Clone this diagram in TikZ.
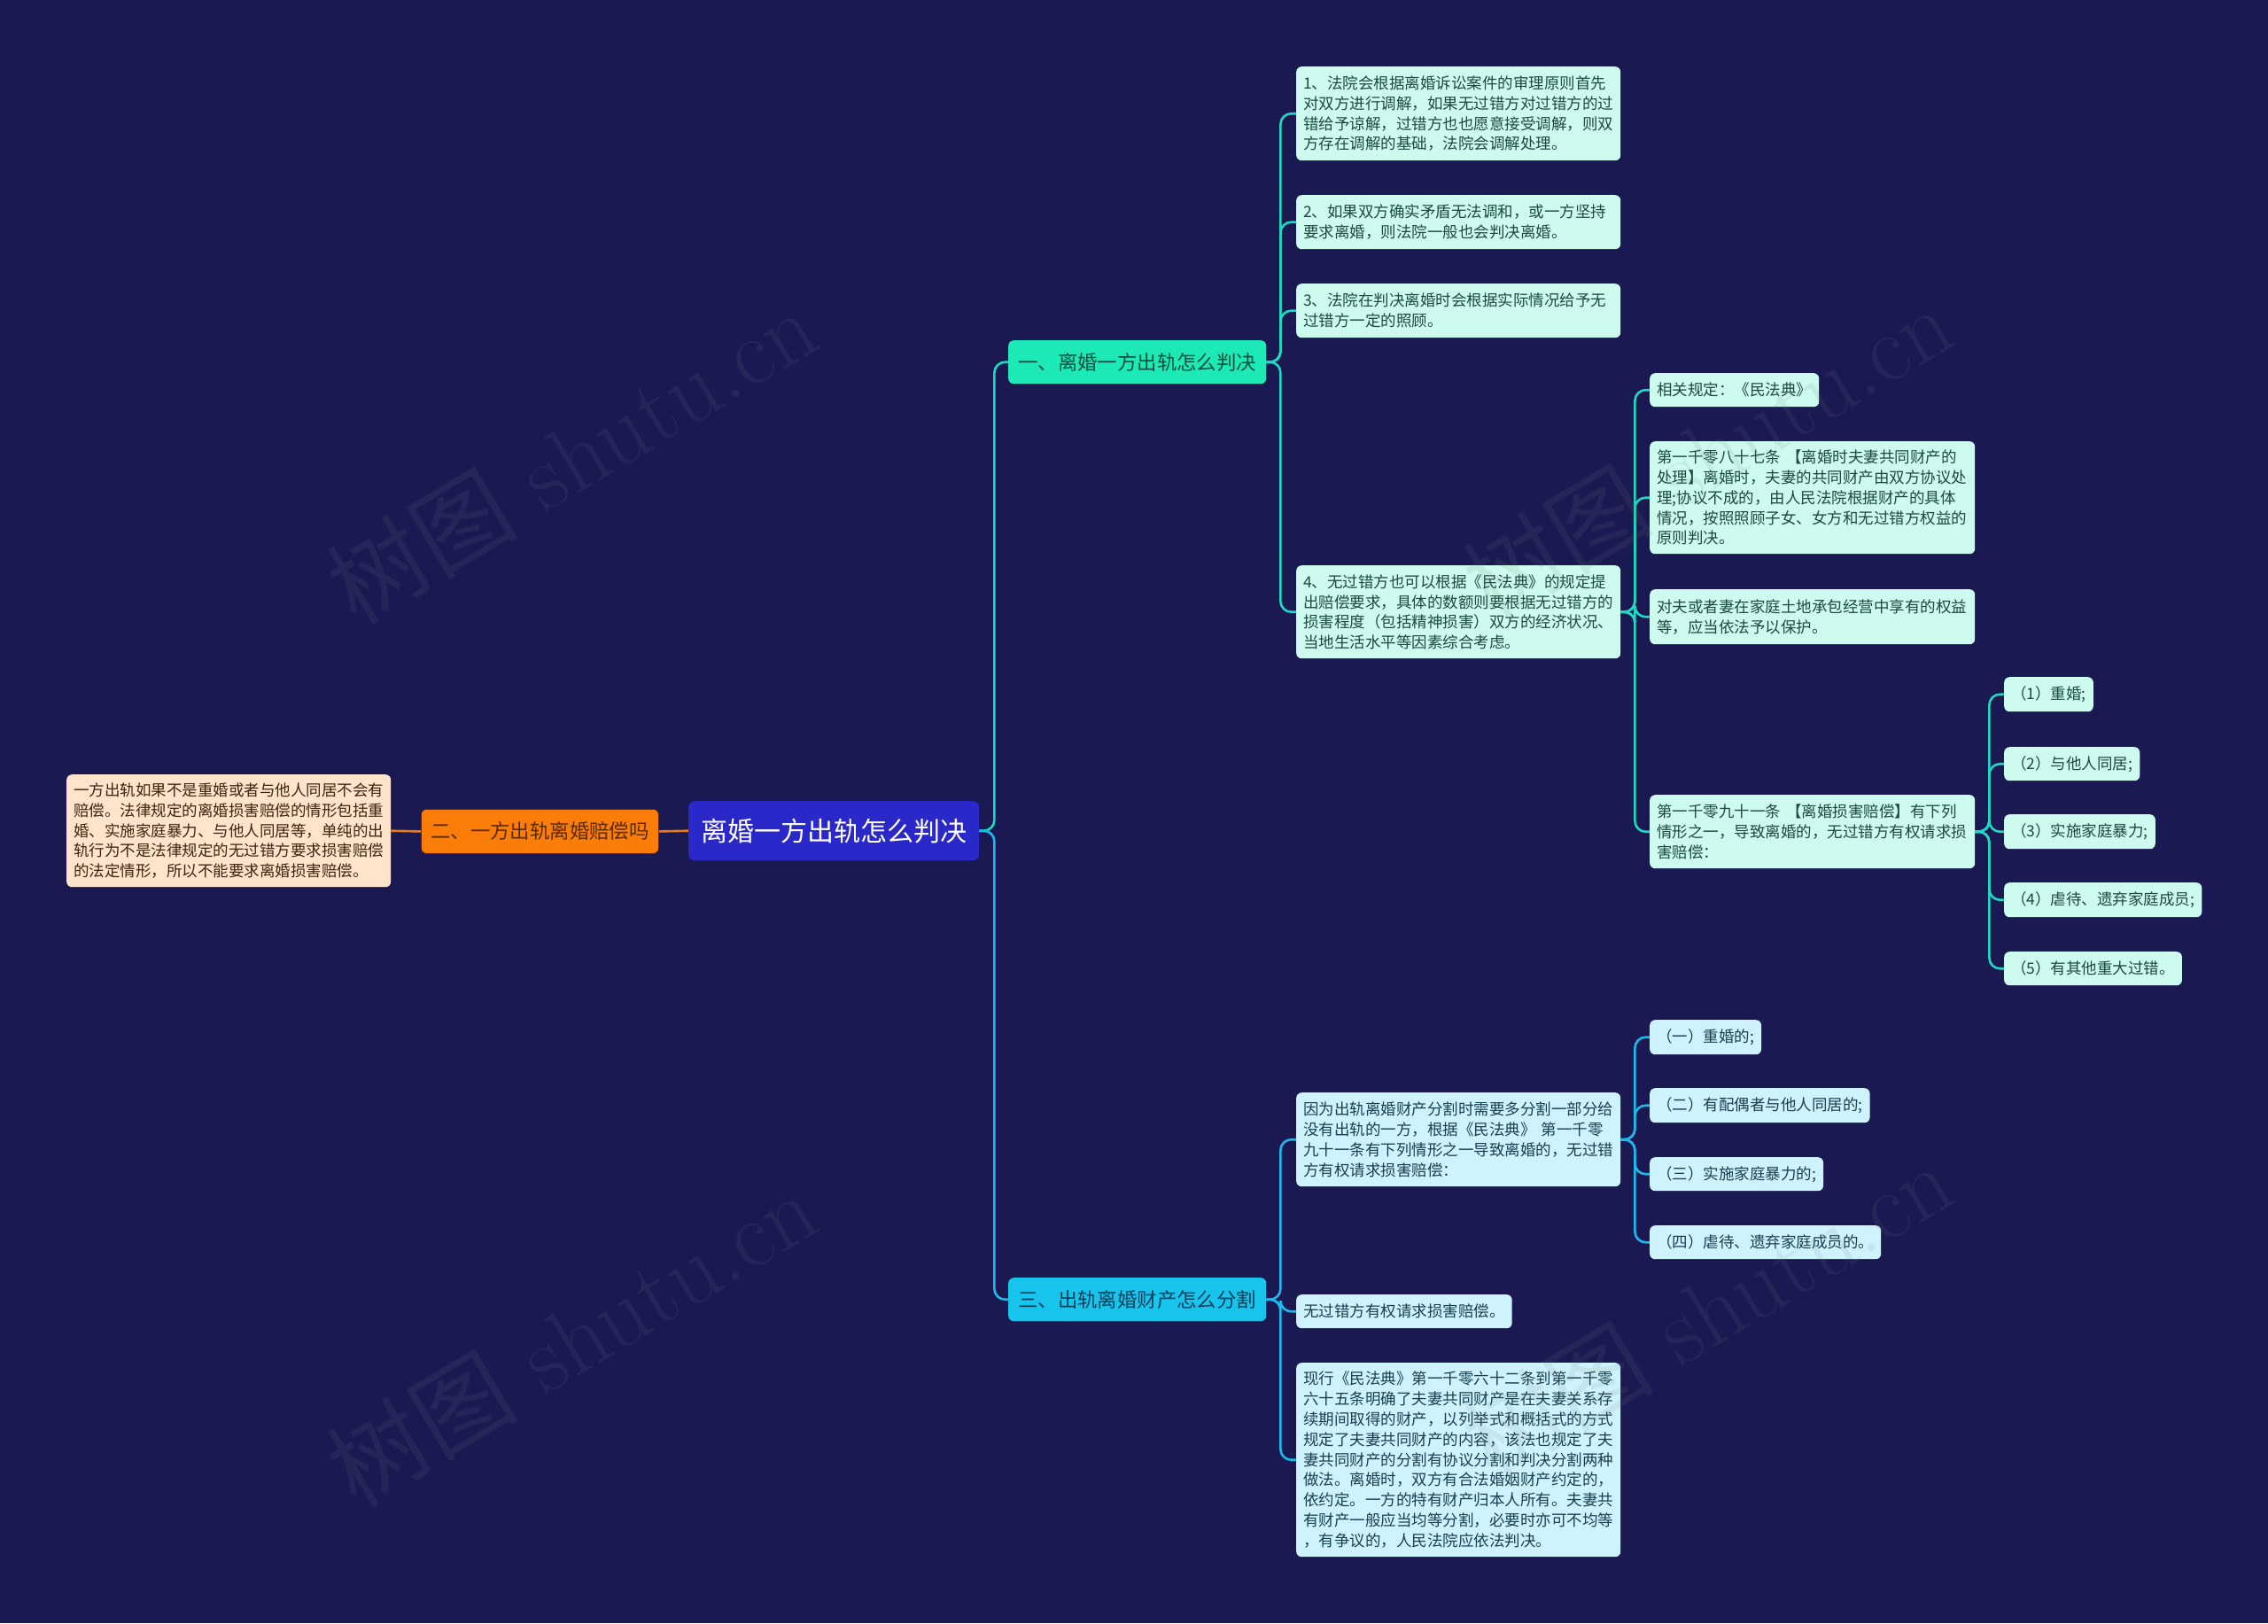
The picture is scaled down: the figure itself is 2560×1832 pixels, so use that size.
\documentclass[tikz,border=0pt]{standalone}
\usepackage{fontspec}
\newfontfamily\cjk{Noto Sans CJK SC}
\definecolor{bg}{HTML}{1A1952}
\definecolor{rootfill}{HTML}{2A28C8}
\definecolor{orangefill}{HTML}{FA7D0A}
\definecolor{orangetext}{HTML}{5A2A00}
\definecolor{peach}{HTML}{FDE4CB}
\definecolor{peachtext}{HTML}{3D2510}
\definecolor{mintfill}{HTML}{1DE9B6}
\definecolor{mintbtext}{HTML}{0B5040}
\definecolor{cyanfill}{HTML}{16C4EC}
\definecolor{cyanbtext}{HTML}{0B3E5A}
\definecolor{mintleaf}{HTML}{CDFBEF}
\definecolor{minttext}{HTML}{1A4A40}
\definecolor{cyanleaf}{HTML}{CEF3FC}
\definecolor{cyantext}{HTML}{17404F}
\definecolor{mintline}{HTML}{1ED8C2}
\definecolor{cyanline}{HTML}{1CB9EA}
\definecolor{orangeline}{HTML}{F07A10}
\tikzset{
  leafbase/.style={rounded corners=6pt, inner xsep=8pt, inner ysep=4pt,
    font=\cjk\fontsize{17.5}{22.8}\selectfont, align=left, anchor=north west},
  mleaf/.style={leafbase, fill=mintleaf, text=minttext},
  cleaf/.style={leafbase, fill=cyanleaf, text=cyantext},
  branchbox/.style={rounded corners=6pt, anchor=north west, inner sep=0pt,
    font=\cjk\fontsize{22.4}{26}\selectfont},
  conn/.style={line width=2.6pt, rounded corners=12pt},
  mconn/.style={conn, draw=mintline},
  cconn/.style={conn, draw=cyanline},
  oconn/.style={conn, draw=orangeline},
  wmark/.style={text=gray, opacity=0.12, rotate=31, inner sep=0pt, font=\fontsize{108}{108}\selectfont}
}
\begin{document}
\begin{tikzpicture}[x=1pt,y=-1pt]
\fill[bg] (0,0) rectangle (2560,1832);
\useasboundingbox (0,0) rectangle (2560,1832);

% root and left side
\node[rounded corners=7pt, fill=rootfill, text=white, anchor=north west, inner sep=0pt,
  minimum width=328pt, minimum height=67pt, font=\cjk\fontsize{30}{34}\selectfont]
  (root) at (777,904) {离婚一方出轨怎么判决};
\node[branchbox, fill=orangefill, draw=orangetext, line width=0.8pt, text=orangetext,
  minimum width=268pt, minimum height=50pt] (br2) at (475,913) {二、一方出轨离婚赔偿吗};
\node[leafbase, fill=peach, text=peachtext, text width=350pt, minimum height=127pt]
  (left) at (75,874) {一方出轨如果不是重婚或者与他人同居不会有\\赔偿。法律规定的离婚损害赔偿的情形包括重\\婚、实施家庭暴力、与他人同居等，单纯的出\\轨行为不是法律规定的无过错方要求损害赔偿\\的法定情形，所以不能要求离婚损害赔偿。};

% branches
\node[branchbox, fill=mintfill, text=mintbtext, minimum width=291pt, minimum height=49pt]
  (br1) at (1138,384) {一、离婚一方出轨怎么判决};
\node[branchbox, fill=cyanfill, text=cyanbtext, minimum width=291pt, minimum height=49pt]
  (br3) at (1138,1442) {三、出轨离婚财产怎么分割};

% branch 1 leaves
\node[mleaf, text width=350pt, minimum height=106pt] (L1) at (1463,75)
  {1、法院会根据离婚诉讼案件的审理原则首先\\对双方进行调解，如果无过错方对过错方的过\\错给予谅解，过错方也也愿意接受调解，则双\\方存在调解的基础，法院会调解处理。};
\node[mleaf, text width=350pt, minimum height=61pt] (L2) at (1463,220)
  {2、如果双方确实矛盾无法调和，或一方坚持\\要求离婚，则法院一般也会判决离婚。};
\node[mleaf, text width=350pt, minimum height=61pt] (L3) at (1463,320)
  {3、法院在判决离婚时会根据实际情况给予无\\过错方一定的照顾。};
\node[mleaf, text width=350pt, minimum height=105pt] (L4) at (1463,638)
  {4、无过错方也可以根据《民法典》的规定提\\出赔偿要求，具体的数额则要根据无过错方的\\损害程度（包括精神损害）双方的经济状况、\\当地生活水平等因素综合考虑。};

\node[mleaf, minimum height=38pt] (A) at (1862,421) {相关规定：《民法典》};
\node[mleaf, text width=351pt, minimum height=127pt] (B) at (1862,498)
  {第一千零八十七条 【离婚时夫妻共同财产的\\处理】离婚时，夫妻的共同财产由双方协议处\\理;协议不成的，由人民法院根据财产的具体\\情况，按照照顾子女、女方和无过错方权益的\\原则判决。};
\node[mleaf, text width=351pt, minimum height=62pt] (C) at (1862,665)
  {对夫或者妻在家庭土地承包经营中享有的权益\\等，应当依法予以保护。};
\node[mleaf, text width=351pt, minimum height=83pt] (D) at (1862,897)
  {第一千零九十一条 【离婚损害赔偿】有下列\\情形之一，导致离婚的，无过错方有权请求损\\害赔偿：};

\node[mleaf, minimum height=39pt] (P1) at (2262,764) {（1）重婚;};
\node[mleaf, minimum height=38pt] (P2) at (2262,843) {（2）与他人同居;};
\node[mleaf, minimum height=39pt] (P3) at (2262,919) {（3）实施家庭暴力;};
\node[mleaf, minimum height=39pt] (P4) at (2262,996) {（4）虐待、遗弃家庭成员;};
\node[mleaf, minimum height=38pt] (P5) at (2262,1074) {（5）有其他重大过错。};

% branch 3 leaves
\node[cleaf, text width=350pt, minimum height=106pt] (M1) at (1463,1233)
  {因为出轨离婚财产分割时需要多分割一部分给\\没有出轨的一方，根据《民法典》 第一千零\\九十一条有下列情形之一导致离婚的，无过错\\方有权请求损害赔偿：};
\node[cleaf, minimum height=38pt] (M2) at (1463,1461) {无过错方有权请求损害赔偿。};
\node[cleaf, text width=350pt, minimum height=219pt] (M3) at (1463,1538)
  {现行《民法典》第一千零六十二条到第一千零\\六十五条明确了夫妻共同财产是在夫妻关系存\\续期间取得的财产，以列举式和概括式的方式\\规定了夫妻共同财产的内容，该法也规定了夫\\妻共同财产的分割有协议分割和判决分割两种\\做法。离婚时，双方有合法婚姻财产约定的，\\依约定。一方的特有财产归本人所有。夫妻共\\有财产一般应当均等分割，必要时亦可不均等\\，有争议的，人民法院应依法判决。};

\node[cleaf, minimum height=39pt] (Q1) at (1862,1151) {（一）重婚的;};
\node[cleaf, minimum height=39pt] (Q2) at (1862,1228) {（二）有配偶者与他人同居的;};
\node[cleaf, minimum height=38pt] (Q3) at (1862,1306) {（三）实施家庭暴力的;};
\node[cleaf, minimum height=38pt] (Q4) at (1862,1383) {（四）虐待、遗弃家庭成员的。};

% connectors
\draw[oconn] (root.west) -- (br2.east);
\draw[oconn] (br2.west) -- (left.east);
\draw[mconn] (root.east) -- ++(17,0) |- (br1.west);
\draw[cconn] (root.east) -- ++(17,0) |- (br3.west);
\foreach \n in {L1,L2,L3,L4} \draw[mconn] (br1.east) -- ++(16,0) |- (\n.west);
\foreach \n in {A,B,C,D} \draw[mconn] (L4.east) -- ++(16,0) |- (\n.west);
\foreach \n in {P1,P2,P3,P4,P5} \draw[mconn] (D.east) -- ++(16,0) |- (\n.west);
\foreach \n in {M1,M2,M3} \draw[cconn] (br3.east) -- ++(16,0) |- (\n.west);
\foreach \n in {Q1,Q2,Q3,Q4} \draw[cconn] (M1.east) -- ++(16,0) |- (\n.west);

% watermarks
\node[wmark] (w1) at (645,514) {{\cjk 树图} shutu.cn};
\node[wmark] (w2) at (645,1510) {{\cjk 树图} shutu.cn};
\node[wmark] (w3) at (1927,510) {{\cjk 树图} shutu.cn};
\node[wmark] (w4) at (1927,1478) {{\cjk 树图} shutu.cn};
\end{tikzpicture}
\end{document}
